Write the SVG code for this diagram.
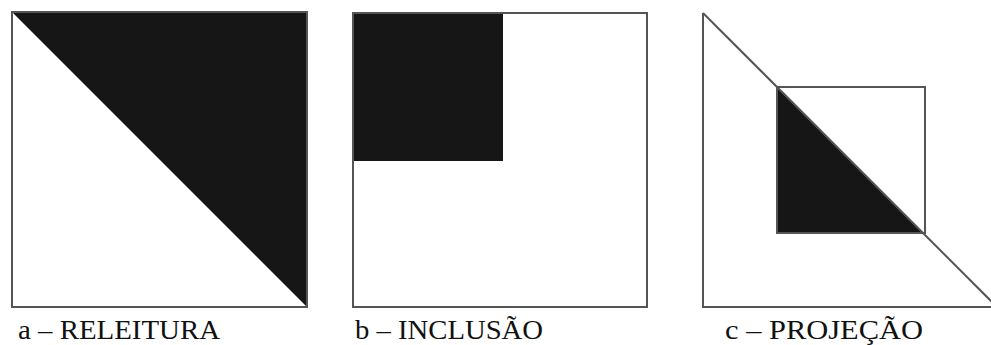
<svg xmlns="http://www.w3.org/2000/svg" width="991" height="345" viewBox="0 0 991 345">
<style>
.frame{fill:none;stroke:#555;stroke-width:2}
.dark{fill:#161616}
.lbl{font-family:"Liberation Serif","Times New Roman",serif;font-size:28px;fill:#111}
</style>
<rect width="991" height="345" fill="#fff"/>
<g id="releitura">
<polygon class="dark" points="12,12 307,12 307,307"/>
<rect class="frame" x="12" y="12" width="295" height="295"/>
<text class="lbl" x="18" y="339" textLength="202" lengthAdjust="spacingAndGlyphs">a – RELEITURA</text>
</g>
<g id="inclusao">
<rect class="dark" x="353" y="13" width="150" height="148"/>
<rect class="frame" x="353" y="13" width="294" height="294"/>
<text class="lbl" x="355" y="339" textLength="188" lengthAdjust="spacingAndGlyphs">b – INCLUSÃO</text>
</g>
<g id="projecao">
<polygon class="dark" points="777,87 777,233 923,233"/>
<rect class="frame" x="777" y="87" width="148" height="146"/>
<polyline class="frame" points="703,13 703,307 997,307"/>
<line class="frame" x1="703" y1="13" x2="997" y2="307"/>
<text class="lbl" x="725" y="339" textLength="198" lengthAdjust="spacingAndGlyphs">c – PROJEÇÃO</text>
</g>
</svg>
